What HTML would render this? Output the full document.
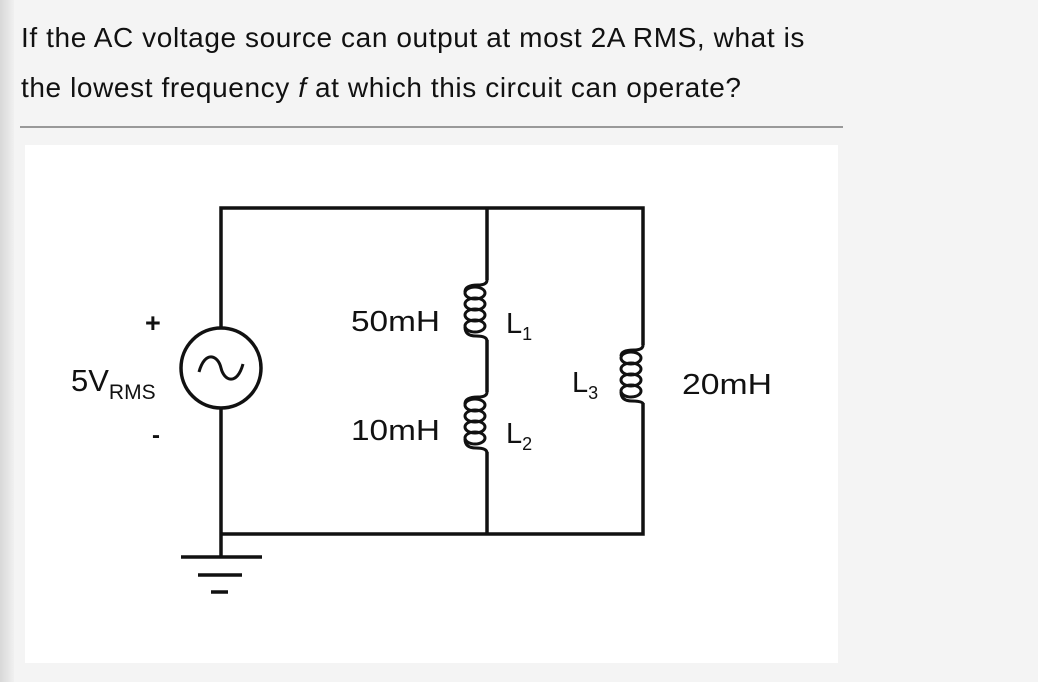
<!DOCTYPE html>
<html><head><style>
html,body{margin:0;padding:0}
body{width:1038px;height:682px;background:#f4f4f4;position:relative;overflow:hidden;font-family:"Liberation Sans",sans-serif}
.strip{position:absolute;left:0;top:0;width:14px;height:682px;background:linear-gradient(to right,#d8d8d8,#e6e6e6 60%,#f0f0f0)}
.q{position:absolute;left:21px;top:13px;font-size:28px;line-height:50px;color:#111;letter-spacing:0.6px}
.rule{position:absolute;left:20px;top:126px;width:823px;height:2px;background:#999}
.box{position:absolute;left:25px;top:145px;width:813px;height:518px;background:#fff}
</style></head><body>
<div class="strip"></div>
<div class="q">If the AC voltage source can output at most 2A RMS, what is<br>the lowest frequency <i>f</i> at which this circuit can operate?</div>
<div class="rule"></div>
<div class="box"></div>
<svg width="1038" height="682" style="position:absolute;left:0;top:0" font-family="Liberation Sans, sans-serif">
<g stroke="#111" stroke-width="3.5" fill="none">
<path d="M221 328 V208 H643 V345"/>
<path d="M221 408 V557"/>
<path d="M221 534 H643 V403"/>
<path d="M487 208 V280"/>
<path d="M487 340 V392"/>
<path d="M487 452 V534"/>
<circle cx="221" cy="368" r="40"/>
<path d="M199 372 C205 350 218 355 221 368 C224 381 237 386 243 364" stroke-width="3"/>
<path d="M181 557 H262 M198 575 H242 M211 592 H228"/>
</g>
<g stroke="#111" stroke-width="3" fill="none">
<path d="M487 280 Q487 285 478 285 Q465 285 465 292"/>
<ellipse cx="475" cy="293" rx="10" ry="6"/>
<ellipse cx="475" cy="304" rx="10" ry="6"/>
<ellipse cx="475" cy="315" rx="10" ry="6"/>
<ellipse cx="475" cy="326" rx="10" ry="6"/>
<path d="M465 327 Q465 336 476 336 Q487 336 487 341"/>
<path d="M487 392 Q487 397 478 397 Q465 397 465 404"/>
<ellipse cx="475" cy="405" rx="10" ry="6"/>
<ellipse cx="475" cy="416" rx="10" ry="6"/>
<ellipse cx="475" cy="427" rx="10" ry="6"/>
<ellipse cx="475" cy="438" rx="10" ry="6"/>
<path d="M465 439 Q465 448 476 448 Q487 448 487 453"/>
<path d="M643 345 Q643 350 634 350 Q621 350 621 356"/>
<ellipse cx="631" cy="358" rx="10" ry="6"/>
<ellipse cx="631" cy="369" rx="10" ry="6"/>
<ellipse cx="631" cy="380" rx="10" ry="6"/>
<ellipse cx="631" cy="391" rx="10" ry="6"/>
<path d="M621 392 Q621 401 632 401 Q643 401 643 404"/>
</g>
<g fill="#111" font-size="29">
<text x="351" y="331" textLength="89" lengthAdjust="spacingAndGlyphs">50mH</text>
<text x="351" y="440" textLength="89" lengthAdjust="spacingAndGlyphs">10mH</text>
<text x="682" y="394" textLength="90" lengthAdjust="spacingAndGlyphs">20mH</text>
<text x="506" y="333">L<tspan font-size="18" dy="7">1</tspan></text>
<text x="506" y="443">L<tspan font-size="18" dy="7">2</tspan></text>
<text x="572" y="392">L<tspan font-size="18" dy="7">3</tspan></text>
<text x="71" y="391" font-size="31">5V<tspan font-size="21" dy="8">RMS</tspan></text>
<text x="145" y="332" font-size="27" font-weight="bold">+</text>
<text x="152" y="443" font-size="24" font-weight="bold">-</text>
</g>
</svg>
</body></html>
